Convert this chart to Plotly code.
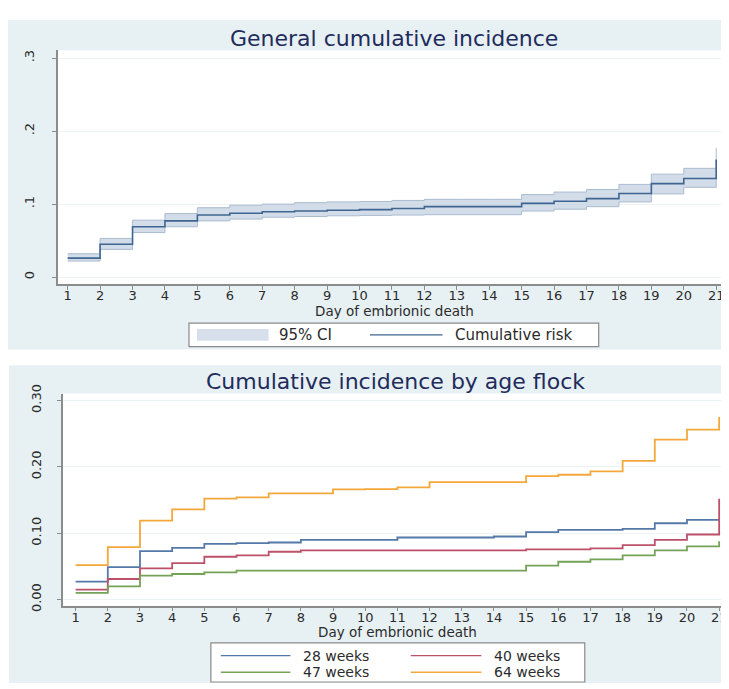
import plotly.graph_objects as go

# page body has an 8px margin, so the figure is 8px smaller than the window
OFF = 8
W, H = 729 - OFF, 689 - OFF

days = list(range(1, 22))
day_labels = [str(d) for d in days]

# General cumulative incidence (cumulative risk with 95% CI)
risk = [0.026, 0.045, 0.069, 0.077, 0.085, 0.0875, 0.0895, 0.0905, 0.0915, 0.0925,
        0.094, 0.0965, 0.0965, 0.0965, 0.101, 0.104, 0.1075, 0.1145, 0.128, 0.135, 0.161]
ci_low = [0.022, 0.038, 0.061, 0.069, 0.077, 0.0795, 0.082, 0.083, 0.084, 0.0845,
          0.085, 0.0855, 0.0855, 0.0855, 0.0905, 0.093, 0.0965, 0.103, 0.114, 0.123, 0.14]
ci_high = [0.032, 0.053, 0.078, 0.087, 0.095, 0.0985, 0.100, 0.102, 0.103, 0.1035,
           0.105, 0.1065, 0.1065, 0.1065, 0.113, 0.1165, 0.12, 0.127, 0.141, 0.149, 0.177]

# Cumulative incidence by age flock
w28 = [0.027, 0.049, 0.073, 0.078, 0.084, 0.085, 0.086, 0.090, 0.090, 0.090,
       0.0935, 0.0935, 0.0935, 0.095, 0.1015, 0.105, 0.105, 0.1065, 0.115, 0.120, 0.120]
w40 = [0.015, 0.031, 0.047, 0.055, 0.0645, 0.0665, 0.072, 0.074, 0.074, 0.074,
       0.074, 0.074, 0.074, 0.074, 0.0755, 0.0755, 0.077, 0.082, 0.090, 0.098, 0.152]
w47 = [0.010, 0.020, 0.036, 0.0385, 0.041, 0.0435, 0.0435, 0.0435, 0.0435, 0.0435,
       0.0435, 0.0435, 0.0435, 0.0435, 0.051, 0.057, 0.0605, 0.0665, 0.074, 0.080, 0.088]
w64 = [0.052, 0.079, 0.119, 0.136, 0.152, 0.154, 0.160, 0.160, 0.166, 0.1665,
       0.169, 0.177, 0.177, 0.177, 0.186, 0.188, 0.193, 0.209, 0.241, 0.256, 0.275]

top_yticks = [0, 0.1, 0.2, 0.3]
top_ytext = ["0", ".1", ".2", ".3"]
bot_yticks = [0, 0.1, 0.2, 0.3]
bot_ytext = ["0.00", "0.10", "0.20", "0.30"]

series = [("28 weeks", w28, "#5479a8"), ("40 weeks", w40, "#bd5169"),
          ("47 weeks", w47, "#74a257"), ("64 weeks", w64, "#f4a73a")]

FONT = "DejaVu Sans, Verdana, sans-serif"
PANEL = "#e7f0f3"
TITLE_C = "#1f2c5c"
TXT = "#2b2b2b"


def px(x):
    return (x - OFF) / W


def py(y):
    return 1 - (y - OFF) / H


fig = go.Figure()

fig.add_trace(go.Scatter(x=days, y=ci_low, mode="lines", line=dict(shape="hv", color="#a9bbcf", width=1),
                         showlegend=False, hoverinfo="skip", xaxis="x", yaxis="y"))
fig.add_trace(go.Scatter(x=days, y=ci_high, mode="lines", line=dict(shape="hv", color="#a9bbcf", width=1),
                         fill="tonexty", fillcolor="rgba(196,210,226,0.75)",
                         showlegend=False, hoverinfo="skip", xaxis="x", yaxis="y"))
fig.add_trace(go.Scatter(x=days, y=risk, mode="lines", line=dict(shape="hv", color="#3f6591", width=1.6),
                         showlegend=False, xaxis="x", yaxis="y"))

for name, vals, col in series:
    fig.add_trace(go.Scatter(x=days, y=vals, mode="lines", name=name,
                             line=dict(shape="hv", color=col, width=1.8),
                             showlegend=False, xaxis="x2", yaxis="y2"))

shapes = []
annotations = []

def rect(x0, y0, x1, y1, **kw):
    shapes.append(dict(type="rect", xref="paper", yref="paper", x0=px(x0), x1=px(x1), y0=py(y1), y1=py(y0), **kw))

def text(t, x, y, size, color=TXT, xanchor="center"):
    annotations.append(dict(text=t, xref="paper", yref="paper", x=px(x), y=py(y), xanchor=xanchor,
                            yanchor="middle", showarrow=False, font=dict(family=FONT, size=size, color=color)))

# panel backgrounds and white plot areas
rect(8, 11, 729, 348, fillcolor=PANEL, line=dict(width=0), layer="below")
rect(9, 364, 729, 689, fillcolor=PANEL, line=dict(width=0), layer="below")
rect(58, 42, 727, 281, fillcolor="white", line=dict(width=0), layer="below")
rect(63, 393, 727, 610, fillcolor="white", line=dict(width=0), layer="below")

# titles
text("General cumulative incidence", 396, 30, 22, TITLE_C)
text("Cumulative incidence by age flock", 398, 381, 22, TITLE_C)
text("Day of embrionic death", 397, 309, 13.5)
text("Day of embrionic death", 400, 637, 13.5)

# top legend
rect(190, 321, 602, 345, fillcolor="white", line=dict(color="#8a8a8a", width=1.2))
rect(198, 327, 270, 339, fillcolor="#d6dfea", line=dict(width=0))
shapes.append(dict(type="line", xref="paper", yref="paper", x0=px(372), x1=px(445), y0=py(333), y1=py(333),
                   line=dict(color="#3f6591", width=1.4)))
text("95% CI", 278, 333, 15, xanchor="left")
text("Cumulative risk", 455, 333, 15, xanchor="left")

# bottom legend
rect(212, 648, 588, 688, fillcolor="white", line=dict(color="#8a8a8a", width=1.2))
pos = [(222, 292, 303, 661), (413, 484, 495, 661), (222, 292, 303, 678), (413, 484, 495, 678)]
for (name, vals, col), (lx0, lx1, tx, ly) in zip(series, pos):
    shapes.append(dict(type="line", xref="paper", yref="paper", x0=px(lx0), x1=px(lx1), y0=py(ly), y1=py(ly),
                       line=dict(color=col, width=1.4)))
    text(name, tx, ly, 14, xanchor="left")

axis_common = dict(showline=True, linecolor="#8c8c8c", linewidth=1.5, ticks="outside", tickcolor="#8c8c8c",
                   ticklen=4, tickwidth=1, zeroline=False, ticklabeloverflow="allow",
                   tickfont=dict(family=FONT, size=13, color=TXT))

fig.update_layout(
    width=W, height=H, margin=dict(l=0, r=0, t=0, b=0),
    paper_bgcolor="white", plot_bgcolor="rgba(0,0,0,0)",
    showlegend=False, shapes=shapes, annotations=annotations,
    xaxis=dict(domain=[px(58), px(727)], anchor="y", range=[0.693, 21.21], tickvals=days, ticktext=day_labels,
               tickangle=0, showgrid=False, ticklabelstandoff=-5, **axis_common),
    yaxis=dict(domain=[py(281), py(42)], anchor="x", range=[-0.0094, 0.3107], tickvals=top_yticks,
               ticktext=top_ytext, tickangle=-90, showgrid=True, gridcolor="#edf3f5", gridwidth=1,
               ticklabelstandoff=13, **axis_common),
    xaxis2=dict(domain=[px(63), px(727)], anchor="y2", range=[0.598, 21.12], tickvals=days, ticktext=day_labels,
                tickangle=0, showgrid=False, ticklabelstandoff=-5, **axis_common),
    yaxis2=dict(domain=[py(610), py(393)], anchor="x2", range=[-0.0093, 0.3104], tickvals=bot_yticks,
                ticktext=bot_ytext, tickangle=-90, showgrid=True, gridcolor="#edf3f5", gridwidth=1,
                ticklabelstandoff=11, **axis_common),
)

fig.write_html("out.html")
